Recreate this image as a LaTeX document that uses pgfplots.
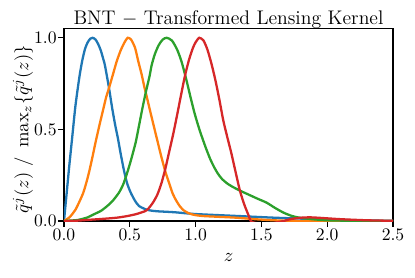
\RequirePackage{fix-cm}
\documentclass[border=0pt]{standalone}
\usepackage{pgfplots}
\pgfplotsset{compat=1.18}
\definecolor{tabblue}{HTML}{1F77B4}
\definecolor{taborange}{HTML}{FF7F0E}
\definecolor{tabgreen}{HTML}{2CA02C}
\definecolor{tabred}{HTML}{D62728}
\begin{document}
\begin{tikzpicture}
\begin{axis}[
  scale only axis,
  width=186.93bp, height=109.32bp,
  xmin=0, xmax=2.5, ymin=0, ymax=1.05,
  xtick={0,0.5,1,1.5,2,2.5},
  ytick={0,0.5,1},
  xticklabels={0.0,0.5,1.0,1.5,2.0,2.5},
  yticklabels={0.0,0.5,1.0},
  tick pos=left,
  axis line style={line width=0.75bp, black},
  tick align=outside,
  major tick length=3.125bp,
  tick style={line width=0.75bp, black},
  ticklabel style={font=\fontsize{10bp}{12bp}\selectfont},
  xticklabel style={anchor=base, yshift=-8.1bp},
  yticklabel style={anchor=east, inner sep=0pt, xshift=-0.85bp},
  every axis title shift=0pt,
  title={BNT $-$ Transformed Lensing Kernel},
  title style={font=\fontsize{11.2bp}{13bp}\selectfont, at={(axis description cs:0.5,1.0224)}, anchor=base, inner sep=0pt},
  xlabel={$z$},
  xlabel style={font=\fontsize{10.6bp}{13bp}\selectfont, at={(axis description cs:0.5,-0.208)}, anchor=base, inner sep=0pt},
  ylabel={$\tilde{q}^j(z)\ /\ \max_z\{\tilde{q}^j(z)\}$},
  ylabel style={font=\fontsize{10.6bp}{13bp}\selectfont, at={(axis description cs:-0.108,0.4766)}, anchor=base, inner sep=0pt},
  every axis plot/.append style={line width=1.3bp, smooth, tension=0.4},
  clip=true,
]
\addplot[tabblue] coordinates {
(0,0) (0.01,0.075) (0.02,0.15) (0.04,0.3) (0.06,0.44) (0.084,0.61) (0.10,0.70) (0.12,0.80)
(0.14,0.88) (0.16,0.94) (0.18,0.975) (0.20,0.995) (0.218,1.0) (0.24,0.99) (0.26,0.965)
(0.28,0.93) (0.30,0.88) (0.311,0.85) (0.342,0.726) (0.367,0.612) (0.39,0.52) (0.41,0.45)
(0.43,0.37) (0.456,0.275) (0.48,0.205) (0.507,0.155) (0.54,0.11) (0.57,0.082) (0.62,0.064)
(0.66,0.057) (0.71,0.053) (0.836,0.048) (1.0,0.038) (1.3,0.028) (1.6,0.018) (1.8,0.013)
(2.0,0.008) (2.2,0.004) (2.5,0.001)
};
\addplot[taborange] coordinates {
(0,0) (0.038,0.018) (0.06,0.035) (0.089,0.064) (0.12,0.11) (0.147,0.155) (0.17,0.21)
(0.19,0.265) (0.215,0.345) (0.24,0.43) (0.27,0.525) (0.299,0.612) (0.32,0.675) (0.342,0.726)
(0.37,0.795) (0.40,0.87) (0.43,0.93) (0.46,0.975) (0.484,1.0) (0.51,0.99) (0.54,0.945)
(0.565,0.87) (0.59,0.8) (0.611,0.73) (0.63,0.675) (0.653,0.605) (0.68,0.525) (0.709,0.44)
(0.74,0.35) (0.772,0.265) (0.80,0.205) (0.823,0.155) (0.85,0.115) (0.881,0.08) (0.91,0.058)
(0.94,0.045) (0.97,0.037) (1.0,0.032) (1.06,0.027) (1.2,0.022) (1.31,0.018) (1.45,0.01)
(1.565,0.005) (1.7,0.001) (1.8,0) (2.5,0)
};
\addplot[tabgreen] coordinates {
(0,0) (0.1,0.005) (0.127,0.009) (0.18,0.02) (0.228,0.037) (0.28,0.055) (0.329,0.082)
(0.37,0.11) (0.418,0.155) (0.45,0.2) (0.481,0.265) (0.51,0.335) (0.545,0.43) (0.57,0.52)
(0.595,0.612) (0.623,0.707) (0.65,0.79) (0.666,0.85) (0.69,0.91) (0.72,0.96) (0.75,0.99)
(0.78,1.0) (0.82,0.985) (0.86,0.935) (0.894,0.868) (0.93,0.77) (0.96,0.68) (0.99,0.594)
(1.02,0.52) (1.05,0.455) (1.08,0.395) (1.11,0.34) (1.14,0.295) (1.17,0.258) (1.20,0.23)
(1.24,0.205) (1.28,0.187) (1.32,0.172) (1.36,0.158) (1.40,0.145) (1.47,0.122) (1.54,0.10)
(1.60,0.073) (1.667,0.046) (1.73,0.028) (1.79,0.018) (1.9,0.009) (2.0,0.004) (2.2,0.001) (2.5,0)
};
\addplot[tabred] coordinates {
(0,0) (0.1,0.002) (0.2,0.007) (0.3,0.012) (0.4,0.018) (0.481,0.027) (0.55,0.038) (0.62,0.055)
(0.65,0.075) (0.68,0.105) (0.71,0.145) (0.74,0.205) (0.77,0.285) (0.80,0.38) (0.83,0.475)
(0.86,0.58) (0.89,0.69) (0.92,0.795) (0.95,0.88) (0.98,0.945) (1.0,0.975) (1.028,1.0)
(1.06,0.985) (1.09,0.935) (1.12,0.86) (1.15,0.77) (1.18,0.665) (1.21,0.55) (1.24,0.46)
(1.27,0.375) (1.30,0.28) (1.337,0.165) (1.37,0.09) (1.40,0.035) (1.42,0.0) (1.45,-0.01)
(1.55,-0.015) (1.65,-0.003) (1.72,0.01) (1.80,0.018) (1.87,0.02) (1.95,0.017) (2.1,0.01)
(2.3,0.004) (2.5,0.001)
};
\end{axis}
\pgfresetboundingbox
\path[use as bounding box] (-36.36bp,-31.82bp) rectangle (199.43bp,125.57bp);
\end{tikzpicture}
\end{document}
